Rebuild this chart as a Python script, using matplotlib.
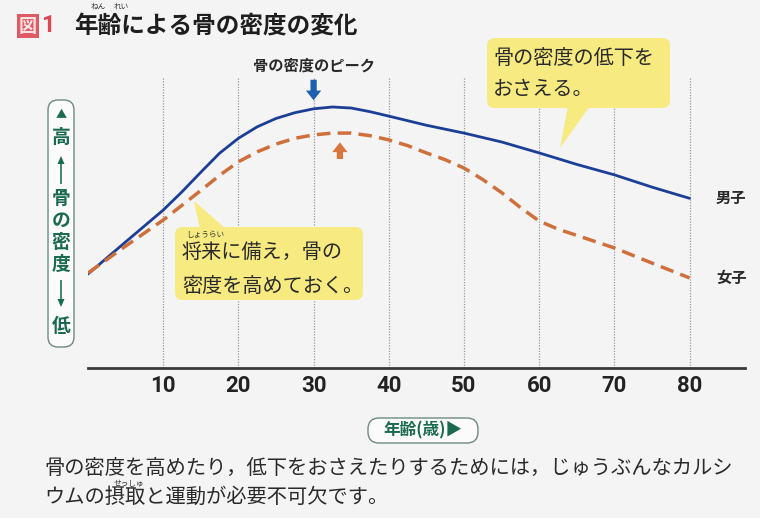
import matplotlib
matplotlib.use("Agg")
import matplotlib.pyplot as plt
from matplotlib.patches import FancyBboxPatch, Polygon, FancyArrow

plt.rcParams['font.family'] = ['Noto Sans CJK JP', 'DejaVu Sans']

# ---- data ----
male_ages = [0, 5, 10, 12.5, 15, 17.5, 20, 22.5, 25, 27.5, 30, 32.5, 35, 37.5, 40, 45,
             50, 55, 60, 65, 70, 75, 80]
male = [36, 48.3, 60.5, 67.5, 75, 82.3, 88, 92.4, 95.6, 97.8, 99.3, 100, 99.6, 98.2, 96.5, 93,
        90, 86.6, 82.4, 78, 74, 69.3, 65]
female_ages = [0, 5, 10, 15, 17.5, 20, 22.5, 25, 27.5, 30, 32.5, 35, 37.5, 40, 42.5, 45,
               47.5, 50, 52.5, 55, 57.5, 60, 62.5, 65, 67.5, 70, 75, 80]
female = [36.4, 46.7, 56.7, 68, 73.8, 79, 82.8, 85.8, 88, 89.3, 90, 90, 89, 87.4, 85.2, 82.4,
          79.8, 76.6, 72.2, 67.2, 61.5, 56.3, 53.2, 50.8, 48.4, 46, 40.2, 34.5]
xticks = [10, 20, 30, 40, 50, 60, 70, 80]
xticklabels = ['10', '20', '30', '40', '50', '60', '70', '80']
male_label = '男子'
female_label = '女子'

W, H = 760, 518
BG = '#f3f4f3'
BLUE = '#1d3e96'
ORANGE = '#cf6f3c'
GREEN = '#1b6a50'
YELLOW = '#f6ea80'
TXT = '#2a2a2a'

fig = plt.figure(figsize=(W / 100, H / 100), dpi=100, facecolor=BG)

# main axes (pixel box: x 88..745, y 60..368)
ax = fig.add_axes([88 / W, 1 - 368 / H, (745 - 88) / W, (368 - 60) / H])
ax.set_facecolor('none')
ax.set_xlim(0, 87.37)
ax.set_ylim(0, 118)
for s in ['top', 'right', 'left']:
    ax.spines[s].set_visible(False)
ax.spines['bottom'].set_color('#3a3a3a')
ax.spines['bottom'].set_linewidth(2.0)
ax.set_yticks([])
ax.set_xticks(xticks)
ax.set_xticklabels(xticklabels, fontfamily='Roboto', fontweight='bold',
                   fontsize=16, color='#222222')
ax.tick_params(axis='x', length=0, pad=5)

# dotted vertical grid
ax.vlines(xticks, 0, 111.5, colors='#9a9a9a', linestyles=(0, (1, 1.2)), lw=0.9, zorder=1)

ax.plot(male_ages, male, color=BLUE, lw=2.0, solid_capstyle='round',
        solid_joinstyle='round', zorder=3)
ax.plot(female_ages, female, color=ORANGE, lw=2.5, dashes=(3.9, 2.1), zorder=3)

ax.text(83.5, male[-1], male_label, fontsize=11, fontweight='bold', color=TXT,
        va='center', ha='left')
ax.text(83.5, female[-1], female_label, fontsize=11, fontweight='bold', color=TXT,
        va='center', ha='left')

# peak arrows
ax.annotate('', xy=(30, 101.5), xytext=(30, 111.5), annotation_clip=False,
            arrowprops=dict(arrowstyle='simple,head_width=1.1,head_length=0.7,tail_width=0.45',
                            color='#1f5fb0', lw=0))
ax.annotate('', xy=(33.5, 87.5), xytext=(33.5, 79), annotation_clip=False,
            arrowprops=dict(arrowstyle='simple,head_width=1.1,head_length=0.7,tail_width=0.45',
                            color='#d9763e', lw=0))
ax.text(30, 116, '骨の密度のピーク', fontsize=11, fontweight='bold', color=TXT,
        ha='center', va='center')

# overlay in pixel coordinates
ov = fig.add_axes([0, 0, 1, 1], zorder=5)
ov.set_xlim(0, W)
ov.set_ylim(H, 0)
ov.axis('off')
ov.patch.set_alpha(0)

# title
ov.text(19, 26, '図', fontsize=13, fontweight='bold', color='#fbe3e3', ha='left', va='center',
        bbox=dict(boxstyle='square,pad=0.12', fc='#e05a63', ec='none'))
ov.text(41, 26, '1', fontsize=17, fontweight='bold', color='#db4652', ha='left', va='center',
        fontfamily='Roboto')
ov.text(74, 26, '年齢による骨の密度の変化', fontsize=17, fontweight='bold', color='#1e1e1e',
        ha='left', va='center')
ov.text(98, 7, 'ねん', fontsize=5.5, color='#333333', ha='center', va='center')
ov.text(121, 7, 'れい', fontsize=5.5, color='#333333', ha='center', va='center')

# bubble 1
ov.add_patch(FancyBboxPatch((487, 38), 183, 70, boxstyle='round,pad=0,rounding_size=8',
                            fc=YELLOW, ec='none'))
ov.add_patch(Polygon([(568, 106), (590, 106), (560, 148)], closed=True, fc=YELLOW, ec='none'))
ov.text(493, 58, '骨の密度の低下を', fontsize=14.5, color=TXT, ha='left', va='center')
ov.text(493, 89, 'おさえる。', fontsize=14.5, color=TXT, ha='left', va='center')

# bubble 2
ov.add_patch(FancyBboxPatch((175, 227), 188, 73, boxstyle='round,pad=0,rounding_size=8',
                            fc=YELLOW, ec='none'))
ov.add_patch(Polygon([(200, 229), (226, 229), (194, 201)], closed=True, fc=YELLOW, ec='none'))
ov.text(182, 252, '将来に備え，骨の', fontsize=14.5, color=TXT, ha='left', va='center')
ov.text(182, 286, '密度を高めておく。', fontsize=14.5, color=TXT, ha='left', va='center')
ov.text(205, 235, 'しょうらい', fontsize=5.5, color='#333333', ha='center', va='center')

# y-axis label box
ov.add_patch(FancyBboxPatch((48, 100), 26, 247, boxstyle='round,pad=0,rounding_size=10',
                            fc='#fafbfa', ec='#6d8a80', lw=1.0))
cx = 61
ov.text(cx, 115, '▲', fontsize=8, color=GREEN, ha='center', va='center')
ov.text(cx, 137, '高', fontsize=13.5, fontweight='bold', color=GREEN, ha='center', va='center')
ov.add_patch(FancyArrow(cx, 184, 0, -28, width=1.6, head_width=7, head_length=8,
                        length_includes_head=True, color=GREEN, lw=0))
for yy, ch in zip([199, 220, 242, 264], ['骨', 'の', '密', '度']):
    ov.text(cx, yy, ch, fontsize=13.5, fontweight='bold', color=GREEN, ha='center', va='center')
ov.add_patch(FancyArrow(cx, 280, 0, 27, width=1.6, head_width=7, head_length=8,
                        length_includes_head=True, color=GREEN, lw=0))
ov.text(cx, 326, '低', fontsize=13.5, fontweight='bold', color=GREEN, ha='center', va='center')

# x-axis label box
ov.add_patch(FancyBboxPatch((368, 418), 110, 25, boxstyle='round,pad=0,rounding_size=11',
                            fc='#fafbfa', ec='#6d8a80', lw=1.0))
ov.text(423, 430.5, '年齢(歳)▶', fontsize=12, fontweight='bold', color=GREEN,
        ha='center', va='center')

# bottom note
ov.text(44, 468, '骨の密度を高めたり，低下をおさえたりするためには，じゅうぶんなカルシ',
        fontsize=14.6, color=TXT, ha='left', va='center')
ov.text(44, 497, 'ウムの摂取と運動が必要不可欠です。', fontsize=14.6, color=TXT,
        ha='left', va='center')
ov.text(129, 484, 'せっしゅ', fontsize=5.5, color='#333333', ha='center', va='center')

fig.savefig('out.png', dpi=100, facecolor=BG)
